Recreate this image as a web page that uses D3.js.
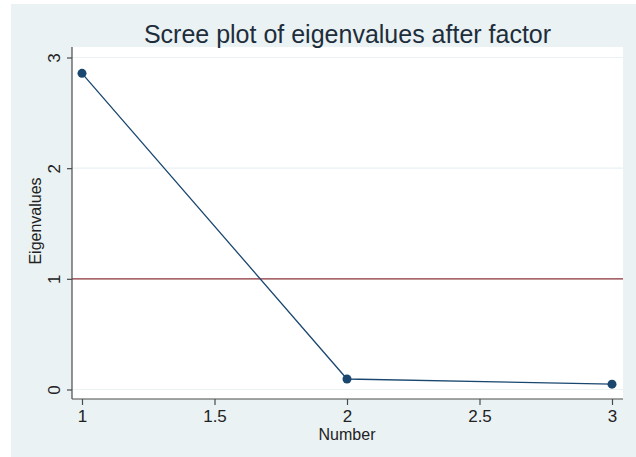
<!DOCTYPE html>
<html>
<head>
<meta charset="utf-8">
<script src="https://cdn.jsdelivr.net/npm/d3@7"></script>
<style>
  html, body { margin: 0; padding: 0; background: #ffffff; }
  svg { display: block; font-family: "Liberation Sans", Arial, sans-serif; }
</style>
</head>
<body>
<svg id="chart" width="636" height="457"></svg>
<script>
// Factor numbers and their eigenvalues
const factorNumbers = [1, 2, 3];
const eigenvalues = [2.857, 0.095, 0.048];
// Kaiser criterion reference line
const referenceValue = 1;
const xTicks = [1, 1.5, 2, 2.5, 3];
const yTicks = [0, 1, 2, 3];
const titleText = "Scree plot of eigenvalues after factor";
const xTitle = "Number";
const yTitle = "Eigenvalues";

const svg = d3.select("#chart");
const W = 636, H = 457;

// graph region background
svg.append("rect").attr("x", 11).attr("y", 4).attr("width", W - 11).attr("height", H - 4)
  .attr("fill", "#eaf2f3");

const plot = { left: 72, right: 623, top: 47, bottom: 399 };
svg.append("rect")
  .attr("x", plot.left).attr("y", plot.top)
  .attr("width", plot.right - plot.left).attr("height", plot.bottom - plot.top)
  .attr("fill", "#ffffff");

const x = d3.scaleLinear().domain([1, 3]).range([82, 612]);
const y = d3.scaleLinear().domain([0, 3]).range([389.5, 57.5]);

// horizontal grid lines
svg.append("g").selectAll("line").data(yTicks).join("line")
  .attr("x1", plot.left).attr("x2", plot.right)
  .attr("y1", d => y(d)).attr("y2", d => y(d))
  .attr("stroke", "#eaf2f3").attr("stroke-width", 1.2);

// reference line at eigenvalue 1
svg.append("line")
  .attr("x1", plot.left).attr("x2", plot.right)
  .attr("y1", y(referenceValue)).attr("y2", y(referenceValue))
  .attr("stroke", "#90353b").attr("stroke-width", 1.4);

// y axis
const yAxis = d3.axisLeft(y).tickValues(yTicks).tickSize(5).tickPadding(0).tickFormat(d3.format("d"));
const gy = svg.append("g").attr("transform", `translate(${plot.left},0)`).call(yAxis);
gy.select(".domain").attr("d", `M0,${plot.top}V${plot.bottom}`).attr("stroke", "#4a4a4a").attr("stroke-width", 1.2);
gy.selectAll(".tick line").attr("stroke", "#4a4a4a").attr("stroke-width", 1.2);
gy.selectAll(".tick text")
  .attr("x", 0).attr("dy", null)
  .attr("transform", d => `translate(-18,0) rotate(-90)`)
  .attr("text-anchor", "middle").attr("dominant-baseline", "central")
  .attr("font-size", 17).attr("fill", "#222");

// x axis
const xAxis = d3.axisBottom(x).tickValues(xTicks).tickSize(6).tickPadding(5).tickFormat(d3.format("~g"));
const gx = svg.append("g").attr("transform", `translate(0,${plot.bottom})`).call(xAxis);
gx.select(".domain").attr("d", `M${plot.left},0H${plot.right}`).attr("stroke", "#4a4a4a").attr("stroke-width", 1.2);
gx.selectAll(".tick line").attr("stroke", "#4a4a4a").attr("stroke-width", 1.2);
gx.selectAll(".tick text").attr("font-size", 17).attr("fill", "#222");

// axis titles
svg.append("text").attr("x", x(2)).attr("y", 440)
  .attr("text-anchor", "middle").attr("font-size", 16).attr("fill", "#222").text(xTitle);
svg.append("text").attr("transform", `translate(35,${(plot.top + plot.bottom) / 2 - 2}) rotate(-90)`)
  .attr("text-anchor", "middle").attr("dominant-baseline", "central")
  .attr("font-size", 16).attr("fill", "#222").text(yTitle);

// title
svg.append("text").attr("x", (plot.left + plot.right) / 2).attr("y", 43)
  .attr("text-anchor", "middle").attr("font-size", 25).attr("fill", "#1e2d3b").text(titleText);

// scree line and markers
const pts = factorNumbers.map((n, i) => [n, eigenvalues[i]]);
svg.append("path").datum(pts)
  .attr("d", d3.line().x(d => x(d[0])).y(d => y(d[1])))
  .attr("fill", "none").attr("stroke", "#1a476f").attr("stroke-width", 1.3);
svg.append("g").selectAll("circle").data(pts).join("circle")
  .attr("cx", d => x(d[0])).attr("cy", d => y(d[1])).attr("r", 4.5)
  .attr("fill", "#1a476f");
</script>
</body>
</html>
